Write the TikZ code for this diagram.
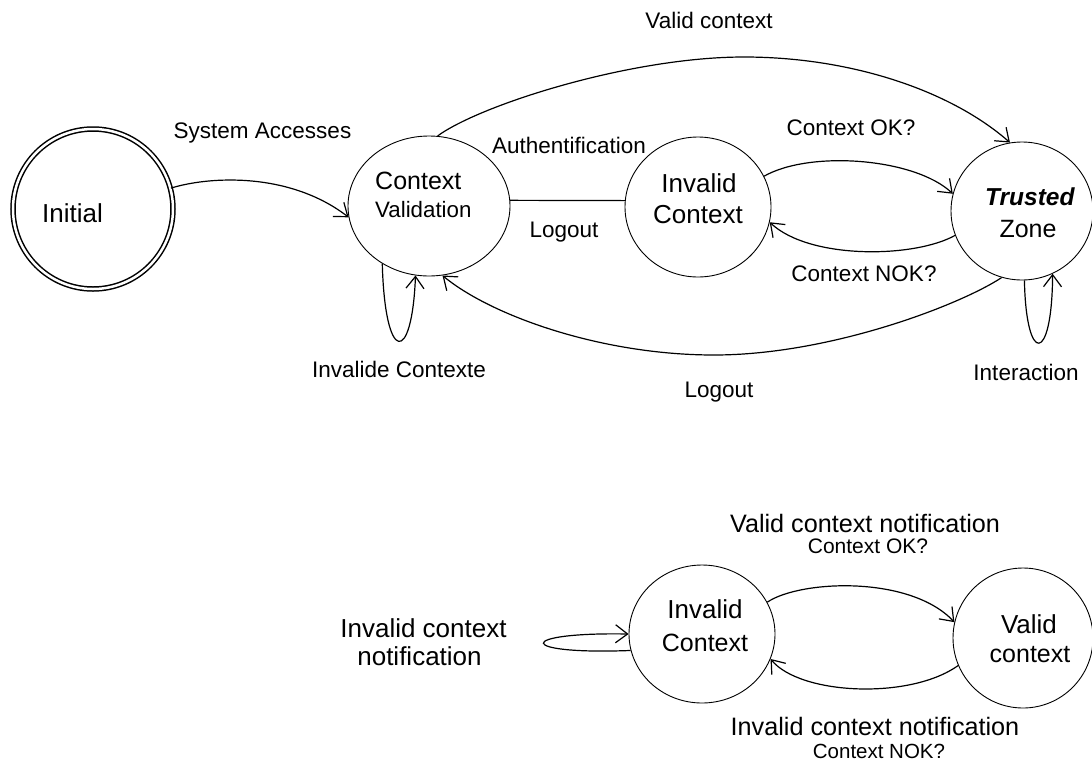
\documentclass[tikz,border=0pt]{standalone}
\usepackage{fontspec}
\setmainfont{Liberation Sans}
\usetikzlibrary{arrows.meta,shapes.geometric}
\begin{document}
\begin{tikzpicture}[x=1pt,y=-1pt,
  stshape/.style={draw, ellipse, line width=0.9pt, inner sep=0pt},
  edge/.style={line width=1.2pt},
  arr/.style={edge, -{Straight Barb[length=12pt,width=18pt]}},
  txt/.style={anchor=base, inner sep=0pt, font=\fontsize{#1}{#1}\selectfont},
  lbl/.style={txt=22.5},
]
\useasboundingbox (0,0) rectangle (1092,764);

% states of the upper machine
\node[draw, circle, double, double distance=2.5pt, line width=1.5pt, minimum size=160pt, inner sep=0pt] (init) at (93,209) {};
\node[stshape, minimum width=162pt, minimum height=140pt] (cv) at (429,206) {};
\node[stshape, minimum width=146pt, minimum height=140pt] (ic) at (698,207) {};
\node[stshape, minimum width=142pt, minimum height=138pt] (tz) at (1022,211) {};

% states of the lower machine
\node[stshape, minimum width=146pt, minimum height=138pt] (ic2) at (702,634) {};
\node[stshape, minimum width=140pt, minimum height=140pt] (vc) at (1023,638) {};

% state names
\node[txt=26] (init-t) at (72.5,222) {Initial};
\node[txt=25, anchor=base west] (cv-t1) at (375,189) {Context};
\node[txt=22.3, anchor=base west] (cv-t2) at (375,217) {Validation};
\node[txt=26] (ic-t1) at (699,192) {Invalid};
\node[txt=26] (ic-t2) at (698,223) {Context};
\node[txt=24.5] (tz-t1) at (1030,205) {\textbf{\textit{Trusted}}};
\node[txt=25] (tz-t2) at (1028,237) {Zone};
\node[txt=26] (ic2-t1) at (705,618) {Invalid};
\node[txt=25] (ic2-t2) at (705,651) {Context};
\node[txt=26] (vc-t1) at (1029,633) {Valid};
\node[txt=25] (vc-t2) at (1030,662) {context};

% transitions of the upper machine
\draw[arr] (init.15) .. controls (210,176) and (290,172) .. (cv.188);
\draw[arr] (cv.83) .. controls (480,105) and (630,57) .. (744,57)
                   .. controls (850,57) and (950,90) .. (tz.100);
\draw[edge] (cv.4) -- (ic.175);
\draw[arr] (ic.25) .. controls (810,150) and (915,158) .. (tz.166);
\draw[arr] (tz.200) .. controls (915,258) and (810,260) .. (ic.348);
\draw[arr] (tz.253) .. controls (960,305) and (830,355) .. (714,355)
                    .. controls (600,355) and (490,315) .. (cv.281);
\draw[arr] (cv.231) .. controls (385,365) and (412,365) .. (cv.259);
\draw[arr] (tz.272) .. controls (1026,365) and (1052,365) .. (tz.296);

% transitions of the lower machine
\draw[arr] (ic2.26) .. controls (800,580) and (910,575) .. (vc.167);
\draw[arr] (vc.203) .. controls (910,700) and (800,695) .. (ic2.340);
\draw[arr] (ic2.193) .. controls (515,655) and (515,632) .. (ic2.180);

% transition labels
\node[lbl] (l-sys) at (262.5,138.5) {System Accesses};
\node[lbl] (l-valid) at (709,28) {Valid context};
\node[lbl] (l-auth) at (569,153) {Authentification};
\node[lbl] (l-logout1) at (564,237) {Logout};
\node[lbl] (l-ok) at (851,135) {Context OK?};
\node[lbl] (l-nok) at (864,281) {Context NOK?};
\node[lbl] (l-inv) at (399,377) {Invalide Contexte};
\node[lbl] (l-logout2) at (719,397) {Logout};
\node[lbl] (l-inter) at (1026,380) {Interaction};

\node[txt=25.2] (l-vcn) at (865,532) {Valid context notification};
\node[txt=21] (l-vcn2) at (868,553) {Context OK?};
\node[txt=25.2] (l-icn) at (875,735) {Invalid context notification};
\node[txt=20.5] (l-icn2) at (879,758) {Context NOK?};
\node[txt=26] (l-self1) at (423.5,637) {Invalid context};
\node[txt=26] (l-self2) at (419.5,665) {notification};
\end{tikzpicture}
\end{document}
